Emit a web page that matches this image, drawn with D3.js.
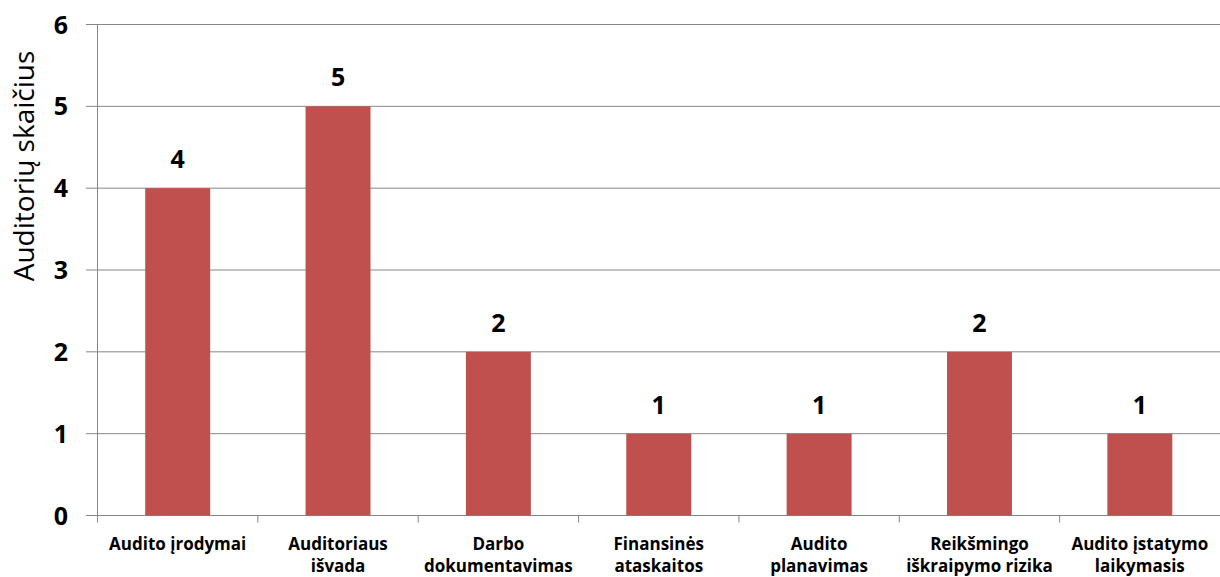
<!DOCTYPE html>
<html><head><meta charset="utf-8">
<script src="https://cdn.jsdelivr.net/npm/d3@7"></script>
<style>body{margin:0;background:#fff}svg{display:block}</style>
</head><body>
<script>
const categories = [["Audito įrodymai"],["Auditoriaus","išvada"],["Darbo","dokumentavimas"],["Finansinės","ataskaitos"],["Audito","planavimas"],["Reikšmingo","iškraipymo rizika"],["Audito įstatymo","laikymasis"]];
const values = [4,5,2,1,1,2,1];
const yTicks = [0,1,2,3,4,5,6];
const yTitle = "Auditorių skaičius";

const W=1220,H=577;
const svg=d3.select("body").append("svg").attr("width",W).attr("height",H);
const x=d3.scaleBand().domain(d3.range(categories.length)).range([97.5,1220]).paddingInner(0.595).paddingOuter(0.2975);
const y=d3.scaleLinear().domain([0,6]).range([515.5,24.5]);
const font="'Open Sans', sans-serif";
// gridlines
svg.append("g").selectAll("line").data(yTicks).join("line")
 .attr("x1",86).attr("x2",1220).attr("y1",d=>y(d)).attr("y2",d=>y(d))
 .attr("stroke","#868686").attr("stroke-width",1);
// y axis line
svg.append("line").attr("x1",97.5).attr("x2",97.5).attr("y1",y(6)).attr("y2",y(0)+7).attr("stroke","#868686");
// category ticks
const band = (1220-97.5)/categories.length;
svg.append("g").selectAll("line").data(d3.range(1,categories.length)).join("line")
 .attr("x1",d=>97.5+d*band).attr("x2",d=>97.5+d*band).attr("y1",y(0)).attr("y2",y(0)+7).attr("stroke","#868686");
// y labels
svg.append("g").selectAll("text").data(yTicks).join("text")
 .attr("x",68).attr("y",d=>y(d)).attr("dy","0.36em").attr("text-anchor","end")
 .attr("font-family",font).attr("font-weight","bold").attr("font-size",25).text(d=>d);
// bars
svg.append("g").selectAll("rect").data(values).join("rect")
 .attr("x",(d,i)=>x(i)).attr("width",x.bandwidth()).attr("y",d=>y(d)).attr("height",d=>y(0)-y(d)).attr("fill","#C0504D");
// value labels
svg.append("g").selectAll("text").data(values).join("text")
 .attr("x",(d,i)=>x(i)+x.bandwidth()/2).attr("y",d=>y(d)-20).attr("text-anchor","middle")
 .attr("font-family",font).attr("font-weight","bold").attr("font-size",25).text(d=>d);
// category labels
const cl=svg.append("g").selectAll("text").data(categories).join("text")
 .attr("text-anchor","middle").attr("font-family",font).attr("font-weight","bold").attr("font-size",17)
 .attr("transform",(d,i)=>`translate(${x(i)+x.bandwidth()/2},0)`);
cl.selectAll("tspan").data(d=>d).join("tspan").attr("x",0).attr("y",(d,j)=>550+j*22).text(d=>d);
// y title
svg.append("text").attr("transform","translate(34,166) rotate(-90)").attr("text-anchor","middle")
 .attr("font-family",font).attr("font-size",28).text(yTitle);
</script>
</body></html>
